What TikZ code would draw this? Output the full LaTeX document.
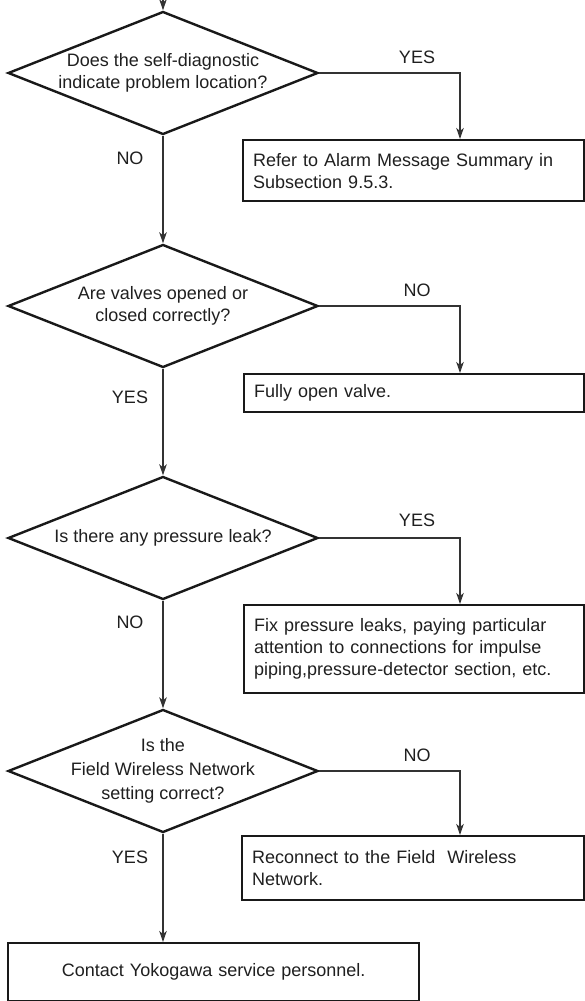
\documentclass[tikz,border=0pt]{standalone}
\usepackage{fontspec}
\setmainfont{Liberation Sans}
\usetikzlibrary{arrows.meta,shapes.geometric}
\begin{document}
\begin{tikzpicture}[x=1pt,y=-1pt,
  txt/.style={font=\fontsize{18}{22}\selectfont, text=black!88, inner sep=0pt},
  dia/.style={draw=black!90, line width=2.4pt, shape=diamond, aspect=2.52,
              minimum width=310pt, minimum height=123pt, inner sep=0pt},
  box/.style={draw=black!90, line width=2.4pt, rectangle, anchor=north west,
              font=\fontsize{18}{22}\selectfont, text=black!88,
              inner xsep=10pt, inner ysep=0pt, align=left},
  conn/.style={draw=black!80, line width=1.3pt,
               -{Stealth[length=11pt,width=7.5pt,inset=3pt]}},
  lab/.style={font=\fontsize{18}{22}\selectfont, text=black!88, inner sep=0pt}
]
\useasboundingbox (0,0) rectangle (585,1001);

% column for the right branches
\coordinate (j) at (460,0);
\coordinate (start) at (163,0);

% decisions
\node[dia] (d1) at (163,73) {};
\node[txt, align=center] (t1) at (d1.center) {Does the self-diagnostic\\indicate problem location?};
\node[dia] (d2) at (163,306) {};
\node[txt, align=center] (t2) at (d2.center) {Are valves opened or\\closed correctly?};
\node[dia] (d3) at (163,538) {};
\node[txt, align=center] (t3) at (d3.center) {Is there any pressure leak?};
\node[dia] (d4) at (163,771) {};
\node[txt, align=center, font=\fontsize{18}{24}\selectfont] (t4) at (d4.center) {Is the\\Field Wireless Network\\setting correct?};

% action boxes
\node[box, text width=321pt, minimum height=61pt] (b1) at (242,139)
  {Refer to Alarm Message Summary in\\Subsection 9.5.3.};
\node[box, text width=320pt, minimum height=38pt] (b2) at (243,373)
  {Fully open valve.};
\node[box, text width=320pt, minimum height=88pt] (b3) at (243,604)
  {Fix pressure leaks, paying particular\\attention to connections for impulse\\piping,pressure-detector section, etc.};
\node[box, text width=322pt, minimum height=64pt] (b4) at (241,835)
  {Reconnect to the Field\ \ Wireless\\Network.};
\node[box, text width=391pt, minimum height=58pt, align=center] (b5) at (7,942)
  {Contact Yokogawa service personnel.};

% connectors
\draw[conn] (start) -- (d1.north);
\draw[conn] (d1.east) -| (b1.north -| j);
\draw[conn] (d1.south) -- (d2.north);
\draw[conn] (d2.east) -| (b2.north -| j);
\draw[conn] (d2.south) -- (d3.north);
\draw[conn] (d3.east) -| (b3.north -| j);
\draw[conn] (d3.south) -- (d4.north);
\draw[conn] (d4.east) -| (b4.north -| j);
\draw[conn] (d4.south) -- (d4.south |- b5.north);

% branch labels
\node[lab] (l1) at (417,57) {YES};
\node[lab] (l2) at (417,290) {NO};
\node[lab] (l3) at (417,520) {YES};
\node[lab] (l4) at (417,755) {NO};
\node[lab] (l5) at (130,158) {NO};
\node[lab] (l6) at (130,397) {YES};
\node[lab] (l7) at (130,622) {NO};
\node[lab] (l8) at (130,857) {YES};
\end{tikzpicture}
\end{document}
